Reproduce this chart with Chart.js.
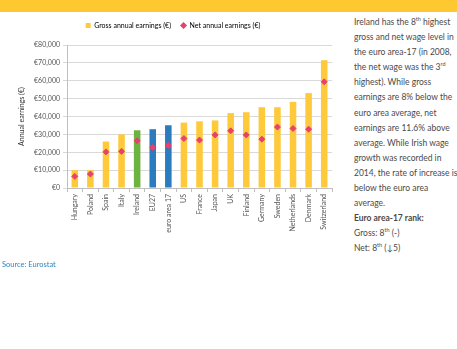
<!DOCTYPE html>
<html><head><meta charset="utf-8">
<script src="https://cdn.jsdelivr.net/npm/chart.js@4"></script>
<style>
html,body{margin:0;padding:0;background:#fff;width:457px;height:349px;overflow:hidden;font-family:Lato,"Open Sans",sans-serif;}
#band{position:absolute;left:0;top:0;width:457px;height:12px;background:#FDC830;}
#wrap{position:absolute;left:0;top:0;width:345px;height:262px;}
#side{position:absolute;left:354px;top:15px;font-size:8.5px;color:#4a4a4a;white-space:nowrap;}
#side div{height:15.1px;line-height:15.1px;}
#side sup{font-size:5.5px;line-height:0;vertical-align:4px;}
#src{position:absolute;left:2px;top:260px;font-size:7.5px;color:#2E86C1;}
</style></head><body>
<div id="band"></div>
<div id="wrap"><canvas id="c" width="345" height="262"></canvas></div>
<div id="side">
<div>Ireland has the 8<sup>th</sup> highest</div>
<div>gross and net wage level in</div>
<div>the euro area-17 (in 2008,</div>
<div>the net wage was the 3<sup>rd</sup></div>
<div>highest). While gross</div>
<div>earnings are 8% below the</div>
<div>euro area average, net</div>
<div>earnings are 11.6% above</div>
<div>average. While Irish wage</div>
<div>growth was recorded in</div>
<div>2014, the rate of increase is</div>
<div>below the euro area</div>
<div>average.</div>
<div><b>Euro area-17 rank:</b></div>
<div>Gross: 8<sup>th</sup> (-)</div>
<div>Net: 8<sup>th</sup> (↓5)</div>
</div>
<div id="src">Source: Eurostat</div>
<script>
const categories = ["Hungary","Poland","Spain","Italy","Ireland","EU27","euro area 17","US","France","Japan","UK","Finland","Germany","Sweden","Netherlands","Denmark","Switzerland"];
const grossEarnings = [10000,10000,26000,30000,32300,32900,35100,36600,37300,37800,41900,42400,45200,45200,48200,53100,71500];
const netEarnings = [6500,7800,20200,20500,26400,22700,23800,27700,26800,29700,32000,29700,27300,34100,33300,32900,59400];
const barColors = categories.map(c => c === "Ireland" ? "#6DB33F" : (c === "EU27" || c === "euro area 17") ? "#2B7BBF" : "#FFC93C");
const yTicks = [0,10000,20000,30000,40000,50000,60000,70000,80000];

const FONT = "Lato";
const legendTweak = {
  id:"legendTweak",
  beforeInit(chart){
    const orig = chart.legend.fit;
    chart.legend.fit = function(){ orig.call(this); this.height += 6; };
  },
  afterLayout(chart){ chart.legend.left += 7; chart.legend.right += 7; }
};
new Chart(document.getElementById("c"), {
  plugins:[legendTweak],
  data: {
    labels: categories,
    datasets: [
      {type:"line", label:"Net annual earnings (€)", data: netEarnings, showLine:false,
       pointStyle:"rectRot", pointRadius:3, pointBackgroundColor:"#E8416F", pointBorderColor:"#E8416F", backgroundColor:"#E8416F", borderColor:"#E8416F", order:0},
      {type:"bar", label:"Gross annual earnings (€)", data: grossEarnings, backgroundColor: barColors,
       barPercentage:0.42, categoryPercentage:1, order:1}
    ]
  },
  options: {
    responsive:false, animation:false,
    layout:{padding:{left:0,right:13,top:12,bottom:0}},
    plugins:{
      tooltip:{enabled:false},
      legend:{display:true, position:"top",
        labels:{font:{family:FONT,size:7}, color:"#555", usePointStyle:true, boxWidth:5, boxHeight:5, padding:10,
          generateLabels:(chart)=>[
            {text:"Gross annual earnings (€)", pointStyle:"rect", fillStyle:"#FFC93C", strokeStyle:"#FFC93C", lineWidth:0, datasetIndex:1},
            {text:"Net annual earnings (€)", pointStyle:"rectRot", fillStyle:"#E8416F", strokeStyle:"#E8416F", lineWidth:0, datasetIndex:0}
          ]}}
    },
    scales:{
      x:{grid:{offset:true, drawOnChartArea:false, tickLength:4, color:"#bfbfbf"}, border:{color:"#bfbfbf"},
         ticks:{font:{family:FONT,size:7}, color:"#555", maxRotation:90, minRotation:90, autoSkip:false, padding:2},
         afterFit:(s)=>{s.height=74;}},
      y:{min:0,max:80000, grid:{color:"#d9d9d9", tickLength:4}, border:{color:"#bfbfbf"},
         afterBuildTicks:(s)=>{s.ticks = yTicks.map(v=>({value:v}));},
         ticks:{font:{family:FONT,size:7}, color:"#555", padding:3, callback:(v)=>"€"+Number(v).toLocaleString("en-US")},
         title:{display:true, text:"Annual earnings (€)", font:{family:FONT,size:7}, color:"#333", padding:{top:18,bottom:0}},
         afterFit:(s)=>{s.width=67;}}
    }
  }
});
</script>
</body></html>
